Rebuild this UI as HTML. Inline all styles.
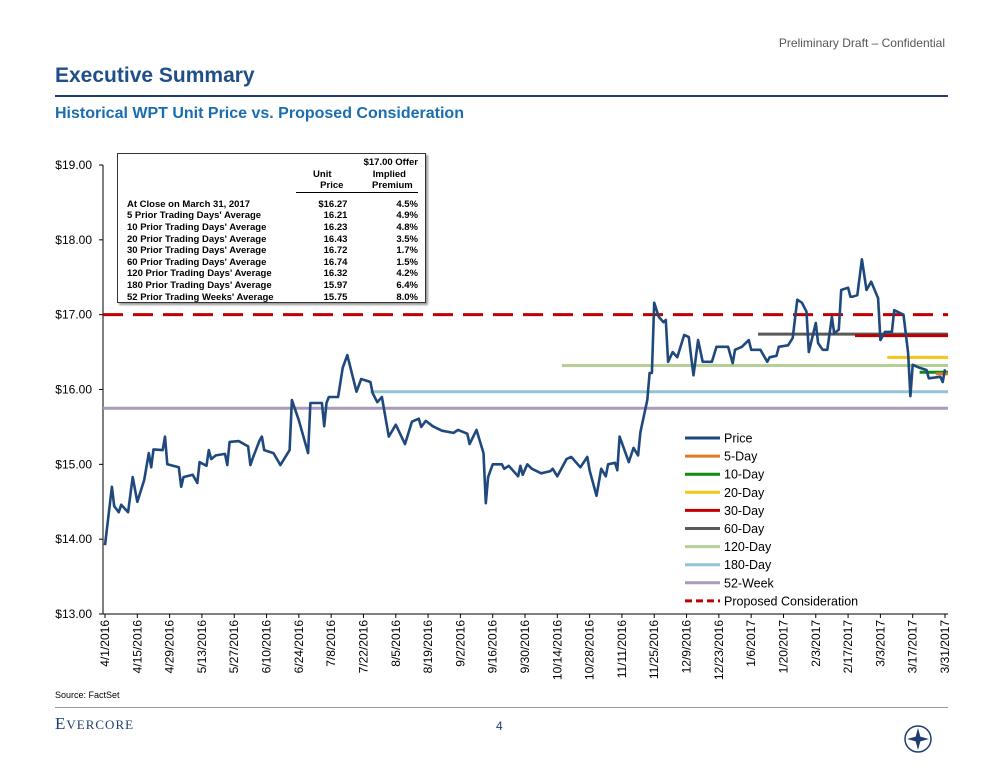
<!DOCTYPE html>
<html><head><meta charset="utf-8">
<style>
body{margin:0;width:1000px;height:774px;background:#fff;font-family:"Liberation Sans",sans-serif;position:relative;overflow:hidden}
.abs{position:absolute}
table{border-collapse:collapse;font-size:9.5px;font-weight:bold;color:#000}
td{padding:0;line-height:11.6px;white-space:nowrap}
td.lb{padding-left:9px}
</style></head><body>
<div class="abs" style="right:55px;top:36px;font-size:12px;color:#555">Preliminary Draft – Confidential</div>
<div class="abs" style="left:55px;top:64px;font-size:21px;font-weight:bold;color:#1f4e89">Executive Summary</div>
<div class="abs" style="left:55px;top:95px;width:893px;height:2px;background:#1f3d6e"></div>
<div class="abs" style="left:55px;top:105px;font-size:16px;font-weight:bold;color:#1a6eb0">Historical WPT Unit Price vs. Proposed Consideration</div>

<div class="abs" style="left:117px;top:153px;width:307px;height:148px;border:1px solid #333;box-shadow:2px 2px 2px #999;background:#fff">
<table style="position:absolute;left:0;top:3px;width:300px">
<tr><td style="width:160px"></td><td style="width:75px"></td><td style="text-align:right">$17.00 Offer</td></tr>
<tr><td></td><td style="text-align:center;padding-left:20px">Unit</td><td style="text-align:right;padding-right:12px">Implied</td></tr>
<tr><td></td><td style="text-align:right;padding-right:0"><span style="border-bottom:1px solid #000;padding:0 4px 0 24px;display:inline-block">Price</span></td><td style="text-align:right"><span style="border-bottom:1px solid #000;padding-left:22px;display:inline-block">&nbsp;Premium&nbsp;&nbsp;</span></td></tr>
<tr><td style="height:6px"></td></tr>
<tr><td class="lb">At Close on March 31, 2017</td><td style="text-align:right">$16.27</td><td style="text-align:right">4.5%</td></tr>
<tr><td class="lb">5 Prior Trading Days' Average</td><td style="text-align:right">16.21</td><td style="text-align:right">4.9%</td></tr>
<tr><td class="lb">10 Prior Trading Days' Average</td><td style="text-align:right">16.23</td><td style="text-align:right">4.8%</td></tr>
<tr><td class="lb">20 Prior Trading Days' Average</td><td style="text-align:right">16.43</td><td style="text-align:right">3.5%</td></tr>
<tr><td class="lb">30 Prior Trading Days' Average</td><td style="text-align:right">16.72</td><td style="text-align:right">1.7%</td></tr>
<tr><td class="lb">60 Prior Trading Days' Average</td><td style="text-align:right">16.74</td><td style="text-align:right">1.5%</td></tr>
<tr><td class="lb">120 Prior Trading Days' Average</td><td style="text-align:right">16.32</td><td style="text-align:right">4.2%</td></tr>
<tr><td class="lb">180 Prior Trading Days' Average</td><td style="text-align:right">15.97</td><td style="text-align:right">6.4%</td></tr>
<tr><td class="lb">52 Prior Trading Weeks' Average</td><td style="text-align:right">15.75</td><td style="text-align:right">8.0%</td></tr>
</table></div>

<svg class="abs" style="left:0;top:0" width="1000" height="774" id="chart"></svg>

<div class="abs" style="left:55px;top:690px;font-size:9px;color:#000">Source: FactSet</div>
<div class="abs" style="left:55px;top:707px;width:893px;height:1px;background:#999"></div>
<div class="abs" style="left:55px;top:714px;font-family:'Liberation Serif',serif;font-size:17px;color:#1f3d6e;letter-spacing:1px">E<span style="font-size:13px">VERCORE</span></div>
<div class="abs" style="left:496px;top:719px;font-size:12px;color:#1f3d6e">4</div>
<svg class="abs" style="left:893px;top:714px" width="50" height="50"><circle cx="25" cy="25" r="13" fill="none" stroke="#1f3d6e" stroke-width="1.5"/><path d="M25 14 L28 25 L25 36 L22 25Z" fill="#1f3d6e"/><path d="M14 25 L25 22 L36 25 L25 28Z" fill="#1f3d6e"/></svg>

<script>
const days=[0,3,4,6,7,10,12,14,17,19,20,21,25,26,27,32,33,34,38,40,41,44,45,46,48,52,53,54,58,62,63,64,67,68,69,73,76,80,81,84,88,89,94,95,96,97,101,103,105,109,111,115,116,118,120,123,126,130,133,136,137,139,142,146,151,153,157,158,161,164,165,166,168,172,173,175,179,180,181,183,185,189,193,194,196,200,202,206,209,210,213,215,217,218,221,222,223,227,229,231,232,235,236,237,238,240,242,243,244,246,248,251,253,254,255,257,259,263,265,270,272,273,276,279,280,284,287,288,291,292,296,298,300,302,304,305,308,309,311,313,315,316,318,319,322,323,324,326,328,330,332,335,336,338,341,342,346,348,349,350,353,356,357,362,363,364];
const prices=[13.92,14.70,14.44,14.36,14.46,14.36,14.83,14.50,14.79,15.15,14.96,15.20,15.19,15.37,15.00,14.96,14.70,14.83,14.86,14.75,15.03,14.98,15.19,15.07,15.12,15.14,14.99,15.30,15.31,15.24,14.99,15.08,15.32,15.37,15.19,15.15,14.99,15.19,15.86,15.59,15.15,15.82,15.82,15.51,15.82,15.90,15.90,16.29,16.46,15.97,16.14,16.10,15.95,15.83,15.90,15.37,15.53,15.27,15.57,15.61,15.50,15.58,15.51,15.45,15.42,15.46,15.41,15.27,15.46,15.15,14.48,14.83,15.00,15.00,14.94,14.98,14.84,14.98,14.86,15.00,14.94,14.88,14.91,14.94,14.84,15.07,15.10,14.96,15.10,14.92,14.58,14.94,14.84,15.00,15.02,14.92,15.37,15.03,15.22,15.12,15.43,15.86,16.22,16.22,17.16,16.97,16.90,16.93,16.37,16.50,16.43,16.73,16.70,16.43,16.19,16.66,16.37,16.37,16.57,16.57,16.35,16.53,16.57,16.66,16.53,16.53,16.37,16.43,16.45,16.57,16.59,16.69,17.20,17.16,17.04,16.50,16.89,16.62,16.53,16.53,16.97,16.75,16.80,17.33,17.36,17.24,17.24,17.26,17.74,17.33,17.44,17.22,16.66,16.77,16.77,17.06,17.00,16.49,15.91,16.33,16.29,16.26,16.15,16.17,16.10,16.27];
const avgNames=["52-Week","180-Day","120-Day","60-Day","30-Day","20-Day","10-Day","5-Day"];
const avgValues=[15.75,15.97,16.32,16.74,16.72,16.43,16.23,16.21];
const avgStartDays=[0,115,198,283,325,339,353,360];
const avgColors=["#a99bbd","#93c4d6","#b6cf95","#595959","#c00000","#f5c518","#108a10","#e07b26"];
const offerValue=17.00;
const yTicks=[13,14,15,16,17,18,19];
const xLabels=["4/1/2016","4/15/2016","4/29/2016","5/13/2016","5/27/2016","6/10/2016","6/24/2016","7/8/2016","7/22/2016","8/5/2016","8/19/2016","9/2/2016","9/16/2016","9/30/2016","10/14/2016","10/28/2016","11/11/2016","11/25/2016","12/9/2016","12/23/2016","1/6/2017","1/20/2017","2/3/2017","2/17/2017","3/3/2017","3/17/2017","3/31/2017"];
const legendNames=["Price","5-Day","10-Day","20-Day","30-Day","60-Day","120-Day","180-Day","52-Week","Proposed Consideration"];
const legendColors=["#1f497d","#e07b26","#108a10","#f5c518","#c00000","#595959","#b6cf95","#93c4d6","#a99bbd","#c00000"];

const svg=document.getElementById('chart');
const NS="http://www.w3.org/2000/svg";
const X=d=>105+d*(840/364);
const Y=p=>614-(p-13)*(449/6);
const XMAX=948;
function mk(t,a){const e=document.createElementNS(NS,t);for(const k in a)e.setAttribute(k,a[k]);svg.appendChild(e);return e;}

let ax=mk('line',{x1:103,y1:165,x2:103,y2:614,stroke:'#000','stroke-width':1});


let bx=mk('line',{x1:103,y1:614,x2:XMAX,y2:614,stroke:'#000','stroke-width':1});


yTicks.forEach(v=>{
  const tk=mk('line',{x1:99,y1:Y(v),x2:103,y2:Y(v),stroke:'#000'});
  
  
  const t=mk('text',{x:92,y:Y(v)+4,'text-anchor':'end','font-size':12,'font-family':'Liberation Sans, sans-serif'});
  t.textContent='$'+v.toFixed(2);
  
  
});
xLabels.forEach((s,i)=>{
  const x=X(i*14);
  const tk=mk('line',{x1:x,y1:614,x2:x,y2:618,stroke:'#000'});
  
  
  const t=mk('text',{x:0,y:0,'text-anchor':'end','font-size':12,'font-family':'Liberation Sans, sans-serif',transform:`translate(${x+4},620) rotate(-90)`});
  t.textContent=s;
  
  
});
avgValues.forEach((v,i)=>{
  const l=mk('line',{x1:i==0?103:X(avgStartDays[i]),y1:Y(v),x2:XMAX,y2:Y(v),stroke:avgColors[i],'stroke-width':3});
  
  
});
const off=mk('line',{x1:103,y1:Y(offerValue),x2:XMAX,y2:Y(offerValue),stroke:'#c00000','stroke-width':3,'stroke-dasharray':'20,10'});


const pl=mk('polyline',{points:days.map((d,i)=>X(d).toFixed(1)+','+Y(prices[i]).toFixed(1)).join(' '),fill:'none',stroke:'#1f497d','stroke-width':2.6,'stroke-linejoin':'round'});


legendNames.forEach((n,i)=>{
  const y=438+i*18.1;
  const l=mk('line',{x1:685,y1:y,x2:720,y2:y,stroke:legendColors[i],'stroke-width':3,'stroke-dasharray':i==9?'7,4':'none'});
  
  
  const t=mk('text',{x:724,y:y+4.5,'font-size':12.5,'font-family':'Liberation Sans, sans-serif'});
  t.textContent=n;
  
  
});
</script>
</body></html>
